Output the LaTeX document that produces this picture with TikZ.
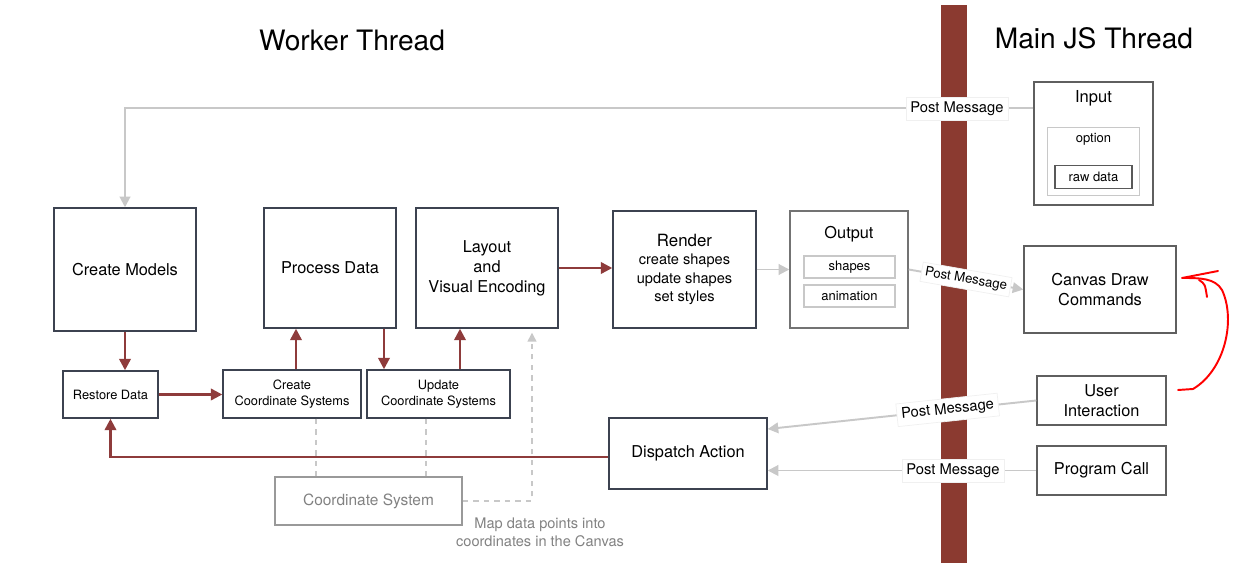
\documentclass[tikz,border=0pt]{standalone}
\usepackage{fontspec}
\setmainfont{TeX Gyre Heros}
\usetikzlibrary{arrows.meta,positioning}
\definecolor{barred}{RGB}{139,58,48}
\definecolor{arrred}{RGB}{142,59,59}
\definecolor{lgray}{RGB}{200,200,200}
\definecolor{boxline}{RGB}{60,66,80}
\definecolor{rboxline}{RGB}{95,95,95}
\definecolor{txtgray}{RGB}{130,130,130}
\begin{document}
\begin{tikzpicture}[x=0.02cm,y=-0.02cm,
	box/.style={draw=boxline, line width=0.85pt, fill=white, align=center, inner sep=0pt, font=\fontsize{9.3}{11.3}\selectfont},
	sbox/.style={box, font=\fontsize{7.3}{9}\selectfont},
	rbox/.style={box, draw=rboxline},
	ibox/.style={draw=lgray, line width=0.6pt, inner sep=0pt, font=\fontsize{7.4}{9}\selectfont},
	redarr/.style={draw=arrred, line width=1.4pt, -{Triangle[length=6.5pt,width=6.5pt]}},
	grayarr/.style={draw=lgray, line width=1.1pt, -{Triangle[length=6pt,width=6pt]}},
	dashline/.style={draw=lgray, line width=0.8pt, dashed},
	msg/.style={fill=white, draw=black!6, line width=0.4pt, inner sep=2.5pt, font=\fontsize{8.4}{10}\selectfont}]
	\useasboundingbox[fill=white] (0,0) rectangle (1251,563);
	% thread border
	\fill[barred] (941,5) rectangle (967,563);
	\node[font=\fontsize{16}{19}\selectfont] (wt) at (352,40) {Worker Thread};
	\node[font=\fontsize{16}{19}\selectfont] (mt) at (1094,38) {Main JS Thread};

	% worker side
	\node[box, minimum width=2.84cm, minimum height=2.46cm] (cm) at (125,269.5) {Create Models};
	\node[box, minimum width=2.64cm, minimum height=2.40cm] (pd) at (330,268) {Process Data};
	\node[box, minimum width=2.84cm, minimum height=2.40cm] (lay) at (487,268) {Layout\\and\\Visual Encoding};
	\node[box, font=\fontsize{8.3}{10.5}\selectfont, minimum width=2.86cm, minimum height=2.34cm] (ren) at (684.5,269.5) {{\fontsize{9.6}{11}\selectfont Render}\\create shapes\\update shapes\\set styles};
	\node[rbox, draw=black!55, minimum width=2.36cm, minimum height=2.34cm] (out) at (849,269.5) {};
	\node[font=\fontsize{9.3}{11}\selectfont] (outt) at (849,234) {Output};
	\node[ibox, minimum width=1.82cm, minimum height=0.44cm] (shp) at (849.5,267) {shapes};
	\node[ibox, minimum width=1.82cm, minimum height=0.44cm] (ani) at (849.5,296) {animation};
	\node[sbox, minimum width=1.90cm, minimum height=0.94cm] (rd) at (110.5,394.5) {Restore Data};
	\node[sbox, minimum width=2.76cm, minimum height=0.96cm] (ccs) at (292,394) {Create\\Coordinate Systems};
	\node[sbox, minimum width=2.86cm, minimum height=0.96cm] (ucs) at (438.5,394) {Update\\Coordinate Systems};
	\node[box, minimum width=3.16cm, minimum height=1.42cm] (da) at (688,453.5) {Dispatch Action};
	\node[box, draw=black!40, text=txtgray, font=\fontsize{8.8}{10}\selectfont, minimum width=3.74cm, minimum height=0.96cm] (cs) at (368.5,501) {Coordinate System};
	\node[text=txtgray, align=center, font=\fontsize{8.3}{10.2}\selectfont] (note) at (540,532) {Map data points into\\coordinates in the Canvas};

	% main side
	\node[rbox, minimum width=2.38cm, minimum height=2.46cm] (inp) at (1093.5,143.5) {};
	\node[font=\fontsize{9.4}{11}\selectfont] (inpt) at (1093.5,98) {Input};
	\node[ibox, minimum width=1.84cm, minimum height=1.36cm] (opt) at (1093.5,161.5) {};
	\node[font=\fontsize{7.4}{9}\selectfont] (optt) at (1093.5,139) {option};
	\node[ibox, draw=black!65, minimum width=1.54cm, minimum height=0.46cm] (raw) at (1093.5,177) {raw data};
	\node[rbox, minimum width=3.04cm, minimum height=1.74cm] (cdc) at (1100,289.5) {Canvas Draw\\Commands};
	\node[rbox, minimum width=2.58cm, minimum height=0.98cm] (ui) at (1101.5,400.5) {User\\Interaction};
	\node[rbox, minimum width=2.58cm, minimum height=0.98cm] (pc) at (1101.5,470.5) {Program Call};

	% flow
	\draw[redarr] (cm.south) -- (cm.south |- rd.north);
	\draw[redarr] (rd.east) -- (rd.east -| ccs.west);
	\draw[redarr] ([xshift=0.08cm]ccs.north) -- ([xshift=0.08cm]ccs.north |- pd.south);
	\draw[redarr] ([xshift=1.08cm]pd.south) -- ([xshift=1.08cm]pd.south |- ucs.north);
	\draw[redarr] ([xshift=0.43cm]ucs.north) -- ([xshift=0.43cm]ucs.north |- lay.south);
	\draw[redarr] (lay.east) -- (lay.east -| ren.west);
	\draw[redarr] ([yshift=-0.07cm]da.west) -| (rd.south);
	\draw[grayarr] (ren.east) -- (out.west);
	\draw[dashline] ([xshift=0.48cm]ccs.south) -- ([xshift=0.48cm]ccs.south |- cs.north);
	\draw[dashline] ([xshift=-0.25cm]ucs.south) -- ([xshift=-0.25cm]ucs.south |- cs.north);
	\draw[dashline, -{Triangle[length=5pt,width=5pt]}] (cs.east) -| ([xshift=0.9cm,yshift=-0.08cm]lay.south);

	% messages
	\draw[grayarr] ([yshift=-0.54cm]inp.north west) -| (cm.north);
	\node[msg] (pm1) at (957,109) {Post Message};
	\draw[grayarr] (out.east) -- (cdc.west) node[msg, sloped, midway, font=\fontsize{7.5}{9}\selectfont, inner sep=2pt] (pm2) {Post Message};
	\draw[grayarr] (ui.west) -- ([yshift=0.49cm]da.east) node[msg, sloped, pos=0.33] (pm3) {Post Message};
	\draw[grayarr] (pc.west) -- (da.east |- pc.west) node[msg, pos=0.31] (pm4) {Post Message};

	% hand drawn mark
	\draw[red, line width=1.1pt, line cap=round, line join=round] (1178,390) -- (1193,389) .. controls (1225,370) and (1236,320) .. (1222,290) .. controls (1215,278) and (1200,278) .. (1182,278) -- (1218,271);
	\draw[red, line width=1.1pt, line cap=round] (1199,280) .. controls (1205,284) .. (1207,297);
\end{tikzpicture}
\end{document}
